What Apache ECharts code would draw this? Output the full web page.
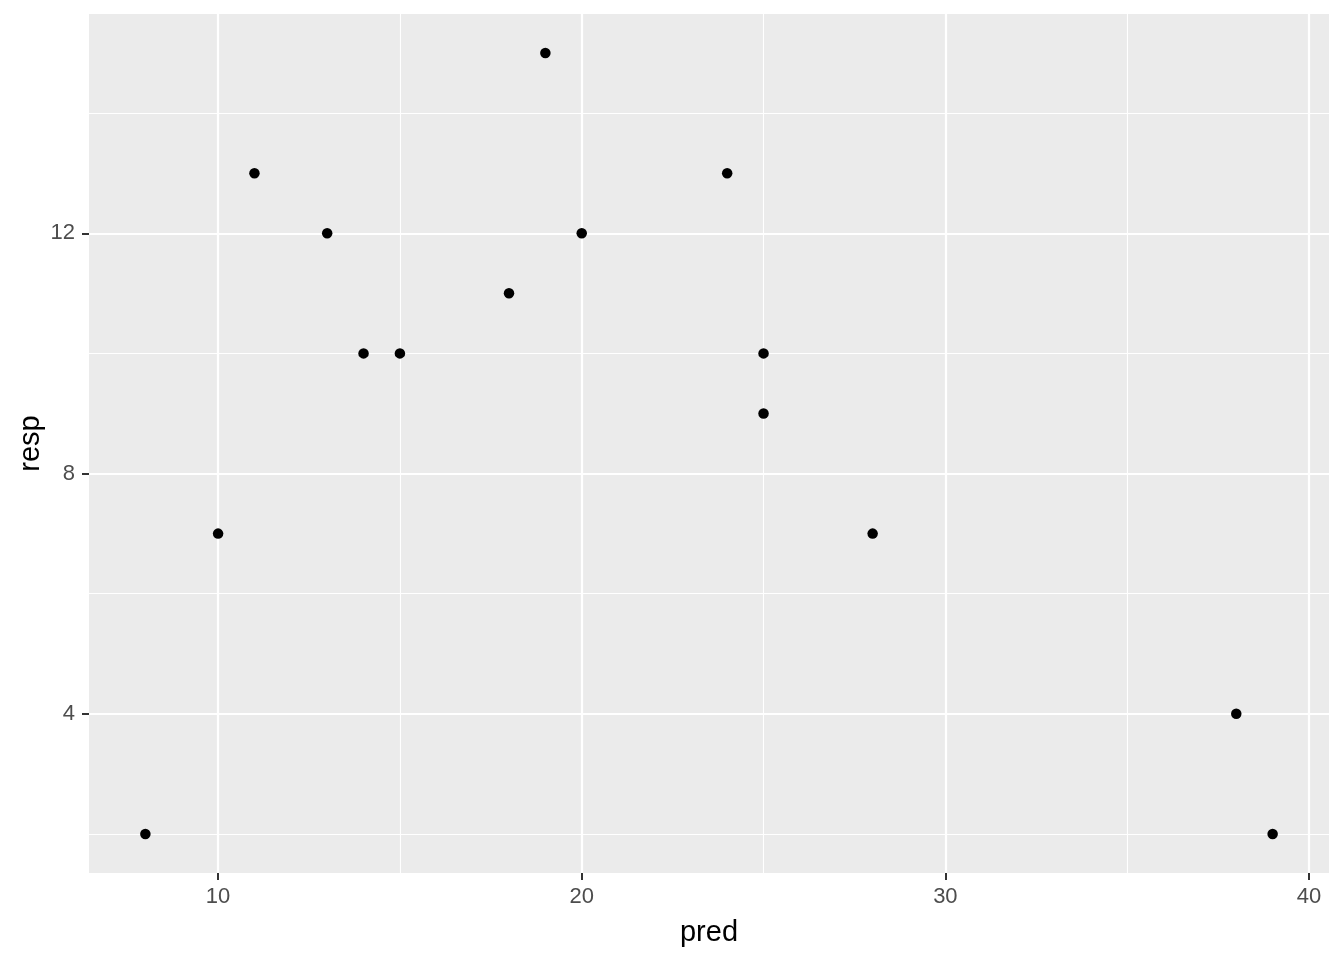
<!DOCTYPE html>
<html>
<head>
<meta charset="utf-8">
<script src="https://cdn.jsdelivr.net/npm/echarts@6/dist/echarts.min.js"></script>
<style>html,body{margin:0;padding:0;background:#fff}#c{width:1344px;height:960px}</style>
</head>
<body>
<div id="c"></div>
<script>
const predValues = [8, 10, 11, 13, 14, 15, 18, 19, 20, 24, 25, 25, 28, 38, 39];
const respValues = [2, 7, 13, 12, 10, 10, 11, 15, 12, 13, 10, 9, 7, 4, 2];
const xMajorTicks = [10, 20, 30, 40];
const xMinorTicks = [15, 25, 35];
const yMajorTicks = [4, 8, 12];
const yMinorTicks = [2, 6, 10, 14];

const FONT = '"Liberation Sans", Arial, sans-serif';
const points = predValues.map((x, i) => [x, respValues[i]]);

const gridLines = [].concat(
  xMinorTicks.map(v => ({ xAxis: v, lineStyle: { color: '#ffffff', width: 1.1, type: 'solid' } })),
  yMinorTicks.map(v => ({ yAxis: v, lineStyle: { color: '#ffffff', width: 1.1, type: 'solid' } })),
  xMajorTicks.map(v => ({ xAxis: v, lineStyle: { color: '#ffffff', width: 2.2, type: 'solid' } })),
  yMajorTicks.map(v => ({ yAxis: v, lineStyle: { color: '#ffffff', width: 2.2, type: 'solid' } }))
);

const chart = echarts.init(document.getElementById('c'), null, { renderer: 'canvas' });
chart.setOption({
  animation: false,
  backgroundColor: '#ffffff',
  grid: { left: 89, right: 15, top: 14, bottom: 87, show: true, backgroundColor: '#EBEBEB', borderWidth: 0 },
  xAxis: {
    type: 'value', min: 6.45, max: 40.55,
    name: 'pred', nameLocation: 'middle', nameGap: 45,
    nameTextStyle: { color: '#000', fontSize: 29, fontFamily: FONT },
    axisLine: { show: false },
    axisTick: { show: true, length: 7, lineStyle: { color: '#333333', width: 2 }, customValues: xMajorTicks },
    axisLabel: { color: '#4D4D4D', fontSize: 22, fontFamily: FONT, margin: 13, customValues: xMajorTicks },
    splitLine: { show: false }
  },
  yAxis: {
    type: 'value', min: 1.35, max: 15.65,
    name: 'resp', nameLocation: 'middle', nameGap: 44, nameRotate: 90, nameMoveOverlap: false,
    nameTextStyle: { color: '#000', fontSize: 29, fontFamily: FONT },
    axisLine: { show: false },
    axisTick: { show: true, length: 7, lineStyle: { color: '#333333', width: 2 }, customValues: yMajorTicks },
    axisLabel: { color: '#4D4D4D', fontSize: 22, fontFamily: FONT, margin: 14, customValues: yMajorTicks },
    splitLine: { show: false }
  },
  series: [
    {
      type: 'scatter', data: [], z: 1, silent: true,
      markLine: { silent: true, symbol: 'none', label: { show: false }, animation: false, data: gridLines }
    },
    {
      type: 'scatter', data: points, z: 5, symbol: 'circle', symbolSize: 10.5,
      itemStyle: { color: '#000000', opacity: 1 }
    }
  ]
});
</script>
</body>
</html>
